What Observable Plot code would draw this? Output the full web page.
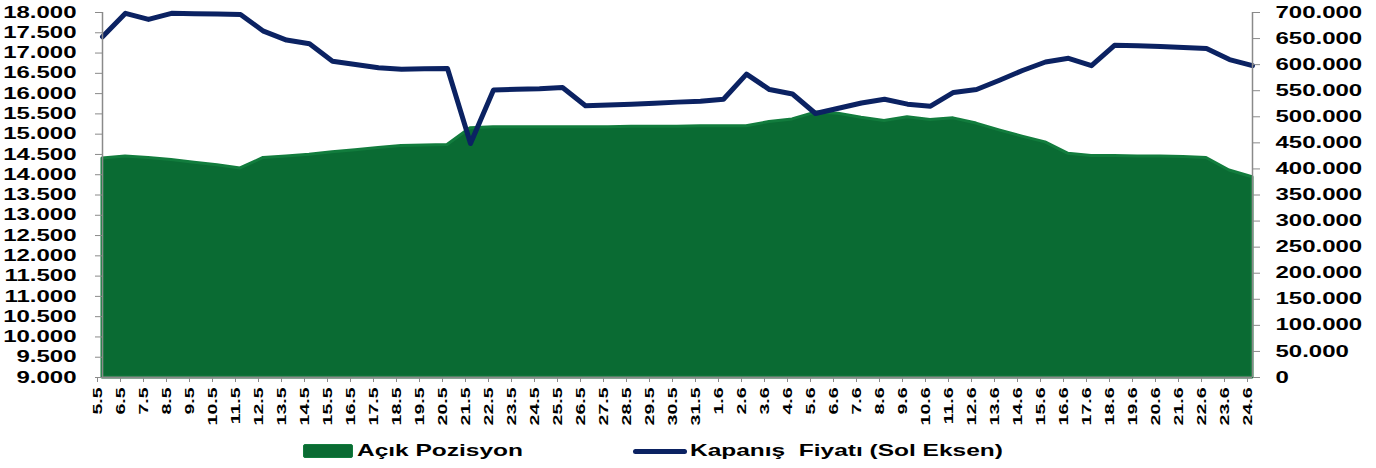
<!DOCTYPE html>
<html>
<head>
<meta charset="utf-8">
<script src="https://cdn.jsdelivr.net/npm/d3@7"></script>
<script src="https://cdn.jsdelivr.net/npm/@observablehq/plot@0.6"></script>
<style>
  html, body { margin: 0; padding: 0; background: #fff; }
  body { width: 1376px; height: 468px; position: relative; overflow: hidden; font-family: "Liberation Sans", Arial, sans-serif; }
  #chart svg text { font-weight: bold; }
  .leg { position: absolute; font-weight: bold; font-size: 17px; color: #000; white-space: pre; transform: scaleX(1.44); transform-origin: 0 0; line-height: 20px; }
</style>
</head>
<body>
<div id="chart"></div>
<div id="legend"></div>
<script>
const dates = ["5.5","6.5","7.5","8.5","9.5","10.5","11.5","12.5","13.5","14.5","15.5","16.5","17.5","18.5","19.5","20.5","21.5","22.5","23.5","24.5","25.5","26.5","27.5","28.5","29.5","30.5","31.5","1.6","2.6","3.6","4.6","5.6","6.6","7.6","8.6","9.6","10.6","11.6","12.6","13.6","14.6","15.6","16.6","17.6","18.6","19.6","20.6","21.6","22.6","23.6","24.6"];

// Kapanış Fiyatı (left axis)
const closePrice = [17400,17980,17830,17980,17970,17960,17950,17540,17320,17230,16800,16720,16640,16600,16610,16620,14770,16090,16110,16120,16150,15700,15720,15740,15760,15790,15810,15860,16480,16100,15990,15510,15640,15770,15860,15740,15690,16030,16100,16330,16570,16780,16870,16690,17190,17180,17160,17140,17110,16840,16690];

// Açık Pozisyon (right axis)
const openPosition = [420000,424000,421000,417000,412000,407000,401000,421000,424000,427000,432000,436000,440000,444000,445000,446000,
  478000,
  480000,480000,480000,480000,480000,480000,481000,481000,481000,482000,482000,
  482000,
  490000,495000,508000,506000,498000,492000,499000,494000,497000,487000,474000,462000,451000,429000,425000,425000,424000,424000,423000,421000,397000,384000];

const leftTicks = [9000,9500,10000,10500,11000,11500,12000,12500,13000,13500,14000,14500,15000,15500,16000,16500,17000,17500,18000];
const leftTickLabels = ["9.000","9.500","10.000","10.500","11.000","11.500","12.000","12.500","13.000","13.500","14.000","14.500","15.000","15.500","16.000","16.500","17.000","17.500","18.000"];
const rightTicks = [0,50000,100000,150000,200000,250000,300000,350000,400000,450000,500000,550000,600000,650000,700000];
const rightTickLabels = ["0","50.000","100.000","150.000","200.000","250.000","300.000","350.000","400.000","450.000","500.000","550.000","600.000","650.000","700.000"];

const seriesNames = ["Açık Pozisyon", "Kapanış  Fiyatı (Sol Eksen)"];

const L0 = 9000, L1 = 18000, R1 = 700000;
const toLeft = v => L0 + v / R1 * (L1 - L0);

const table = dates.map((d, i) => ({date: d, price: closePrice[i], pos: toLeft(openPosition[i])}));

const leftLabelMap = new Map(leftTicks.map((t, i) => [t, leftTickLabels[i]]));
const rightPosTicks = rightTicks.map(toLeft);
const rightLabelMap = new Map(rightPosTicks.map((t, i) => [t, rightTickLabels[i]]));

const gray = "#8a8a8a";
const green = "#0a6b33";
const navy = "#0b2262";

const chart = Plot.plot({
  width: 1376,
  height: 430,
  marginLeft: 102,
  marginRight: 124,
  marginTop: 12,
  marginBottom: 53,
  style: {fontFamily: "'Liberation Sans', Arial, sans-serif", fontSize: "16px", fontWeight: "bold", color: "#000", background: "#fff"},
  x: {type: "point", domain: dates, padding: 0},
  y: {domain: [L0, L1]},
  marks: [
    Plot.areaY(table, {x: "date", y1: L0, y2: "pos", fill: green, stroke: "#127c3d", strokeWidth: 3, curve: "linear"}),
    Plot.lineY(table, {x: "date", y: "price", stroke: navy, strokeWidth: 5, strokeLinejoin: "round"}),
    Plot.ruleY([L0], {stroke: gray, strokeWidth: 2}),
    Plot.ruleX([dates[0]], {stroke: gray, strokeWidth: 1.5}),
    Plot.ruleX([dates[dates.length - 1]], {stroke: gray, strokeWidth: 1.5}),
    Plot.axisY(leftTicks, {anchor: "left", tickSize: 7, tickPadding: 19, stroke: gray, fontSize: 16, tickFormat: d => leftLabelMap.get(d), label: null}),
    Plot.axisY(rightPosTicks, {anchor: "right", tickSize: 7, tickPadding: 16, stroke: gray, fontSize: 16, tickFormat: d => rightLabelMap.get(d), label: null}),
    Plot.axisX(dates, {tickRotate: -90, tickSize: 5, tickPadding: 5, dx: -5, stroke: gray, fontSize: 13, label: null})
  ]
});
document.getElementById("chart").appendChild(chart);

// stretch tick labels horizontally along their writing direction (wide bold face)
chart.querySelectorAll("text").forEach(t => {
  const tr = t.getAttribute("transform");
  if (tr) {
    t.setAttribute("transform", tr + " scale(1.5,1)");
  } else {
    const x = +(t.getAttribute("x") || 0), y = +(t.getAttribute("y") || 0);
    t.setAttribute("transform", `translate(${x},${y}) scale(1.5,1) translate(${-x},${-y})`);
  }
});

// Legend
const legend = document.getElementById("legend");
legend.innerHTML = `
  <div style="position:absolute;left:303px;top:444px;width:48px;height:12px;background:${green};border:1px solid #127c3d;border-radius:2px"></div>
  <div class="leg" style="left:357px;top:441px">${seriesNames[0]}</div>
  <div style="position:absolute;left:633px;top:449px;width:54px;height:5px;background:${navy};border-radius:3px"></div>
  <div class="leg" style="left:690px;top:441px">${seriesNames[1]}</div>
`;
</script>
</body>
</html>
